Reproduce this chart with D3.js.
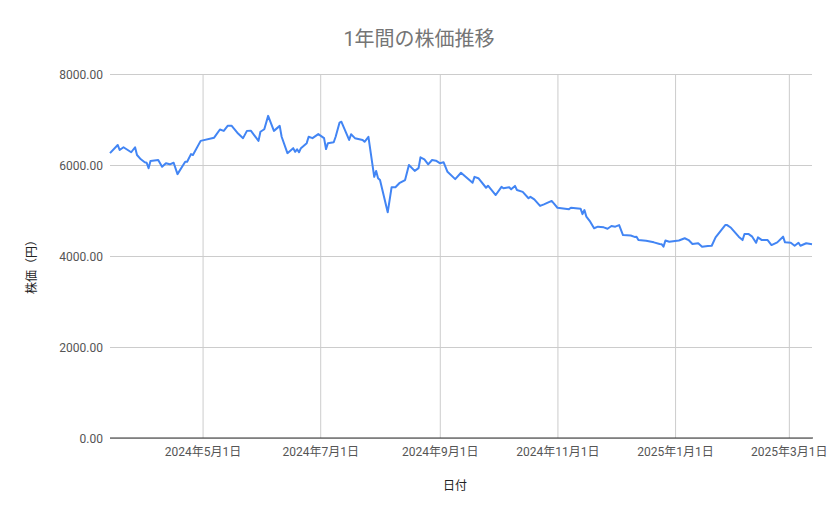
<!DOCTYPE html>
<html>
<head>
<meta charset="utf-8">
<script src="https://cdn.jsdelivr.net/npm/d3@7"></script>
<style>
  body { margin: 0; background: #fff; }
  text { font-family: Roboto, "Noto Sans CJK JP", sans-serif; }
</style>
</head>
<body>
<div id="chart"></div>
<script>
// chart texts
var title = '1年間の株価推移';
var xTitle = '日付';
var yTitle = '株価（円）';

// y axis ticks
var yTicks = [0, 2000, 4000, 6000, 8000];

// x axis ticks
var xTickDates = ['2024-05-01', '2024-07-01', '2024-09-01', '2024-11-01', '2025-01-01', '2025-03-01'];

// dates of the series
var dates = [
    '2024-03-14', '2024-03-18', '2024-03-19', '2024-03-21', '2024-03-25', '2024-03-27', '2024-03-28', '2024-03-30',
    '2024-04-01', '2024-04-02', '2024-04-03', '2024-04-04', '2024-04-08', '2024-04-10', '2024-04-12', '2024-04-14',
    '2024-04-16', '2024-04-18', '2024-04-22', '2024-04-23', '2024-04-25', '2024-04-26', '2024-04-30',
    '2024-05-07', '2024-05-10', '2024-05-12', '2024-05-14', '2024-05-16', '2024-05-19', '2024-05-22', '2024-05-24',
    '2024-05-26', '2024-05-30', '2024-05-31',
    '2024-06-02', '2024-06-04', '2024-06-07', '2024-06-10', '2024-06-11', '2024-06-14', '2024-06-17', '2024-06-18',
    '2024-06-19', '2024-06-20', '2024-06-21', '2024-06-24', '2024-06-25', '2024-06-27', '2024-06-30',
    '2024-07-03', '2024-07-04', '2024-07-05', '2024-07-08', '2024-07-09', '2024-07-11', '2024-07-12', '2024-07-16',
    '2024-07-17', '2024-07-19', '2024-07-23', '2024-07-24', '2024-07-26', '2024-07-29', '2024-07-30', '2024-07-31',
    '2024-08-01', '2024-08-05', '2024-08-07', '2024-08-09', '2024-08-11', '2024-08-14', '2024-08-16', '2024-08-19',
    '2024-08-21', '2024-08-22', '2024-08-24', '2024-08-26', '2024-08-28', '2024-08-30',
    '2024-09-01', '2024-09-03', '2024-09-05', '2024-09-09', '2024-09-12', '2024-09-18', '2024-09-19', '2024-09-21',
    '2024-09-25', '2024-09-26', '2024-09-30',
    '2024-10-03', '2024-10-04', '2024-10-07', '2024-10-08', '2024-10-10', '2024-10-11', '2024-10-14', '2024-10-17',
    '2024-10-18', '2024-10-20', '2024-10-23', '2024-10-25', '2024-10-29', '2024-10-30',
    '2024-11-01', '2024-11-07', '2024-11-08', '2024-11-13', '2024-11-14', '2024-11-15', '2024-11-16', '2024-11-18',
    '2024-11-20', '2024-11-22', '2024-11-25', '2024-11-27', '2024-11-29',
    '2024-12-01', '2024-12-03', '2024-12-05', '2024-12-09', '2024-12-11', '2024-12-12', '2024-12-13', '2024-12-17',
    '2024-12-21', '2024-12-24', '2024-12-25', '2024-12-26', '2024-12-27', '2024-12-29',
    '2025-01-03', '2025-01-06', '2025-01-08', '2025-01-10', '2025-01-13', '2025-01-15', '2025-01-18', '2025-01-20',
    '2025-01-22', '2025-01-27', '2025-01-28', '2025-01-30',
    '2025-02-03', '2025-02-05', '2025-02-06', '2025-02-08', '2025-02-10', '2025-02-12', '2025-02-13', '2025-02-15',
    '2025-02-18', '2025-02-20', '2025-02-23', '2025-02-26', '2025-02-27',
    '2025-03-02', '2025-03-04', '2025-03-06', '2025-03-07', '2025-03-10', '2025-03-13'
];

// price values (yen)
var prices = [
    6260, 6440, 6330, 6390, 6280, 6390, 6220, 6125,
    6060, 6050, 5930, 6090, 6110, 5960, 6040, 6015,
    6050, 5800, 6070, 6070, 6240, 6220, 6530,
    6600, 6780, 6750, 6860, 6865, 6710, 6590, 6750,
    6755, 6530, 6730,
    6785, 7080, 6750, 6860, 6620, 6260, 6370, 6290,
    6345, 6280, 6370, 6480, 6620, 6590, 6680,
    6590, 6350, 6480, 6500, 6620, 6930, 6950, 6550,
    6675, 6590, 6550, 6510, 6620, 5740, 5870, 5710,
    5670, 4960, 5510, 5510, 5600, 5670, 6000, 5870,
    5930, 6170, 6125, 6015, 6110, 6095,
    6040, 6060, 5850, 5690, 5830, 5610, 5740, 5710,
    5500, 5545, 5340,
    5520, 5490, 5510, 5465, 5540, 5450, 5410, 5270,
    5300, 5245, 5100, 5135, 5210, 5160,
    5060, 5030, 5060, 5040, 4920, 5010, 4865, 4755,
    4610, 4645, 4630, 4600, 4660,
    4645, 4680, 4460, 4450, 4420, 4425, 4350, 4335,
    4300, 4265, 4260, 4205, 4340, 4315,
    4340, 4390, 4350, 4265, 4280, 4205, 4220, 4225,
    4410, 4680, 4680, 4620,
    4425, 4350, 4485, 4485, 4425, 4290, 4410, 4350,
    4350, 4240, 4300, 4425, 4300,
    4290, 4225, 4290, 4225, 4280, 4260
];

var W = 839, H = 519;
var margin = {top: 74, right: 27, bottom: 81, left: 110};
var parse = d3.timeParse('%Y-%m-%d');

var data = dates.map(function(d, i) {
    return {date: parse(d), value: prices[i]};
});

var svg = d3.select('#chart').append('svg')
    .attr('width', W)
    .attr('height', H);

var x = d3.scaleTime()
    .domain(d3.extent(data, function(d) { return d.date; }))
    .range([margin.left, W - margin.right]);

var y = d3.scaleLinear()
    .domain([0, 8000])
    .range([H - margin.bottom, margin.top]);

//title
svg.append('text')
    .attr('x', 419)
    .attr('y', 46)
    .attr('text-anchor', 'middle')
    .style('font-size', '20px')
    .style('fill', '#757575')
    .text(title);

//horizontal grid + y labels
var yAxis = d3.axisLeft(y)
    .tickValues(yTicks)
    .tickSize(-(W - margin.left - margin.right))
    .tickPadding(7)
    .tickFormat(d3.format('.2f'));

var gy = svg.append('g')
    .attr('transform', 'translate(' + margin.left + ',0)')
    .call(yAxis);
gy.select('.domain').remove();
gy.selectAll('line').attr('stroke', '#cccccc');
gy.selectAll('text')
    .style('font-size', '12px')
    .style('fill', '#555')
    .attr('dy', '0.35em');

//vertical grid + x labels
var xAxis = d3.axisBottom(x)
    .tickValues(xTickDates.map(parse))
    .tickSize(-(H - margin.top - margin.bottom))
    .tickPadding(9)
    .tickFormat(d3.timeFormat('%Y年%-m月%-d日'));

var gx = svg.append('g')
    .attr('transform', 'translate(0,' + (H - margin.bottom) + ')')
    .call(xAxis);
gx.select('.domain').remove();
gx.selectAll('line').attr('stroke', '#cccccc');
gx.selectAll('text')
    .style('font-size', '12px')
    .style('fill', '#555');

//baseline
svg.append('line')
    .attr('x1', margin.left)
    .attr('x2', W - margin.right + 1)
    .attr('y1', y(0))
    .attr('y2', y(0))
    .attr('stroke', '#333')
    .attr('stroke-width', 1.2);

//line
var line = d3.line()
    .x(function(d) { return x(d.date); })
    .y(function(d) { return y(d.value); });

svg.append('path')
    .datum(data)
    .attr('d', line)
    .attr('fill', 'none')
    .attr('stroke', '#4285f4')
    .attr('stroke-width', 2)
    .attr('stroke-linejoin', 'round');

//axis titles
svg.append('text')
    .attr('x', 455)
    .attr('y', 490)
    .attr('text-anchor', 'middle')
    .style('font-size', '12px')
    .style('fill', '#222')
    .text(xTitle);

svg.append('text')
    .attr('transform', 'translate(36,264) rotate(-90)')
    .attr('text-anchor', 'middle')
    .style('font-size', '12px')
    .style('fill', '#222')
    .text(yTitle);
</script>
</body>
</html>
